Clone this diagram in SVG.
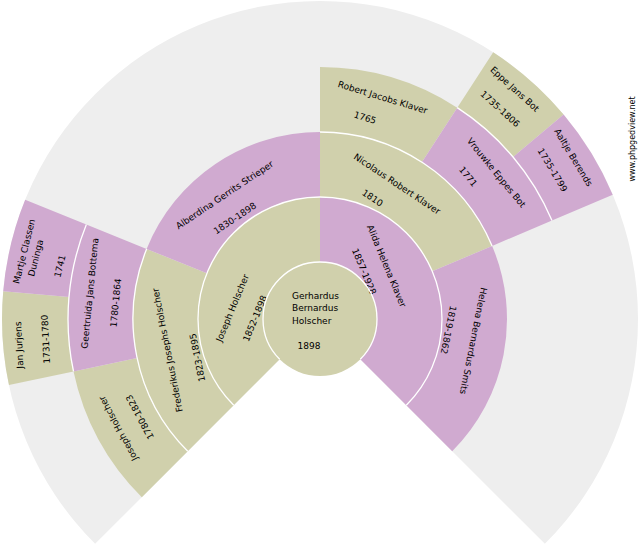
<svg xmlns="http://www.w3.org/2000/svg" width="640" height="550" viewBox="0 0 640 550">
<style>
.m{fill:#d0d0ac}
.f{fill:#d0aad0}
.bg{fill:#eeeeee}
.sep{fill:none;stroke:#ffffff;stroke-width:1.3}
text{font-family:"DejaVu Sans","Liberation Sans",sans-serif;font-size:9px;fill:#000000}
.t{text-anchor:middle}
.w{font-size:8px}
</style>
<rect width="640" height="550" fill="#ffffff"/>
<path class="bg" d="M320,319 L544.86,543.86 A318,318 0 1 0 95.14,543.86 Z"/>

<g id="p1-gerhardus">
<circle class="m" cx="320" cy="319" r="57"/>
<text x="292" y="299.3">Gerhardus</text>
<text x="292" y="311">Bernardus</text>
<text x="292" y="323.5">Holscher</text>
<text x="297.5" y="349.3">1898</text>
</g>

<g id="p2-joseph">
<path class="m" d="M233.73,405.27 A122,122 0 0 1 320,197 L320,262 A57,57 0 0 0 279.69,359.31 Z"/>
<text class="t" transform="translate(232.5,308) rotate(-67.5)" y="3">Joseph Holscher</text>
<text class="t" transform="translate(255,318.5) rotate(-67.5)" y="3">1852-1898</text>
</g>

<g id="p3-alida">
<path class="f" d="M320,197 A122,122 0 0 1 406.27,405.27 L360.31,359.31 A57,57 0 0 0 320,262 Z"/>
<text class="t" transform="translate(386.5,266) rotate(67.5)" y="3">Alida Helena Klaver</text>
<text class="t" transform="translate(364,271.5) rotate(67.5)" y="3">1857-1928</text>
</g>

<g id="p4-frederikus">
<path class="m" d="M187.77,451.23 A187,187 0 0 1 146.62,248.95 L206.88,273.3 A122,122 0 0 0 233.73,405.27 Z"/>
<text class="t" transform="translate(167.5,350) rotate(-101.25)" y="3">Frederikus Josephs Holscher</text>
<text class="t" transform="translate(197.5,357.5) rotate(-101.25)" y="3">1823-1895</text>
</g>

<g id="p5-alberdina">
<path class="f" d="M146.62,248.95 A187,187 0 0 1 320,132 L320,197 A122,122 0 0 0 206.88,273.3 Z"/>
<text class="t" transform="translate(224.7,195) rotate(-33.75)" y="3">Alberdina Gerrits Strieper</text>
<text class="t" transform="translate(235,218.3) rotate(-33.75)" y="3">1830-1898</text>
</g>

<g id="p6-nicolaus">
<path class="m" d="M320,132 A187,187 0 0 1 492.13,245.93 L432.3,271.33 A122,122 0 0 0 320,197 Z"/>
<text class="t" transform="translate(397,184) rotate(33.75)" y="3">Nicolaus Robert Klaver</text>
<text class="t" transform="translate(372.5,198) rotate(33.75)" y="3">1810</text>
</g>

<g id="p7-helena">
<path class="f" d="M492.13,245.93 A187,187 0 0 1 452.23,451.23 L406.27,405.27 A122,122 0 0 0 432.3,271.33 Z"/>
<text class="t" transform="translate(473.3,340.8) rotate(101.25)" y="3">Helena Bernardus Smits</text>
<text class="t" transform="translate(448.3,330) rotate(101.25)" y="3">1819-1862</text>
</g>

<g id="p8-joseph">
<path class="m" d="M141.81,497.19 A252,252 0 0 1 73.51,371.39 L137.09,357.88 A187,187 0 0 0 187.77,451.23 Z"/>
<text class="t" transform="translate(118.3,428.3) rotate(-118.125)" y="3">Joseph Holscher</text>
<text class="t" transform="translate(140,417) rotate(-118.125)" y="3">1780-1823</text>
</g>

<g id="p9-geertruida">
<path class="f" d="M73.51,371.39 A252,252 0 0 1 86.35,224.6 L146.62,248.95 A187,187 0 0 0 137.09,357.88 Z"/>
<text class="t" transform="translate(90,293.3) rotate(-84.375)" y="3">Geertruida Jans Bottema</text>
<text class="t" transform="translate(115.8,302.8) rotate(-84.375)" y="3">1780-1864</text>
</g>

<g id="p12-robert">
<path class="m" d="M320,67 A252,252 0 0 1 457.25,107.66 L421.85,162.17 A187,187 0 0 0 320,132 Z"/>
<text class="t" transform="translate(382.7,97.5) rotate(16.875)" y="3">Robert Jacobs Klaver</text>
<text class="t" transform="translate(365,117.8) rotate(16.875)" y="3">1765</text>
</g>

<g id="p13-vrouwke">
<path class="f" d="M457.25,107.66 A252,252 0 0 1 551.97,220.54 L492.13,245.93 A187,187 0 0 0 421.85,162.17 Z"/>
<text class="t" transform="translate(496.3,172.8) rotate(50.625)" y="3">Vrouwke Eppes Bot</text>
<text class="t" transform="translate(468,176.7) rotate(50.625)" y="3">1771</text>
</g>

<g id="p18-jan">
<path class="m" d="M8.95,385.12 A318,318 0 0 1 3.21,291.28 L68.96,297.04 A252,252 0 0 0 73.51,371.39 Z"/>
<text class="t" transform="translate(19.2,345) rotate(-92.8125)" y="3">Jan Jurjens</text>
<text class="t" transform="translate(45.8,339.2) rotate(-92.8125)" y="3">1731-1780</text>
</g>

<g id="p19-martje">
<path class="f" d="M3.21,291.28 A318,318 0 0 1 25.16,199.87 L86.35,224.6 A252,252 0 0 0 68.96,297.04 Z"/>
<text class="t" transform="translate(24.2,251.3) rotate(-75.9375)" y="3">Martje Classen</text>
<text class="t" transform="translate(35.8,258) rotate(-75.9375)" y="3">Duninga</text>
<text class="t" transform="translate(60,266.2) rotate(-75.9375)" y="3">1741</text>
</g>

<g id="p26-eppe">
<path class="m" d="M493.2,52.3 A318,318 0 0 1 563.6,114.59 L513.04,157.02 A252,252 0 0 0 457.25,107.66 Z"/>
<text class="t" transform="translate(514.7,89.2) rotate(42.1875)" y="3">Eppe Jans Bot</text>
<text class="t" transform="translate(500,109) rotate(42.1875)" y="3">1735-1806</text>
</g>

<g id="p27-aaltje">
<path class="f" d="M563.6,114.59 A318,318 0 0 1 612.72,194.75 L551.97,220.54 A252,252 0 0 0 513.04,157.02 Z"/>
<text class="t" transform="translate(573.3,157.5) rotate(59.0625)" y="3">Aaltje Berends</text>
<text class="t" transform="translate(552.5,170) rotate(59.0625)" y="3">1735-1799</text>
</g>

<g id="ring-lines">
<path class="sep" d="M279.69,359.31 A57,57 0 1 1 360.31,359.31"/>
<path class="sep" d="M233.73,405.27 A122,122 0 1 1 406.27,405.27"/>
<path class="sep" d="M187.77,451.23 A187,187 0 0 1 146.62,248.95"/>
<path class="sep" d="M320,132 A187,187 0 0 1 492.13,245.93"/>
<path class="sep" d="M73.51,371.39 A252,252 0 0 1 86.35,224.6"/>
<path class="sep" d="M457.25,107.66 A252,252 0 0 1 551.97,220.54"/>
</g>

<text class="t w" transform="translate(635,139) rotate(-90)">www.phpgedview.net</text>
</svg>
